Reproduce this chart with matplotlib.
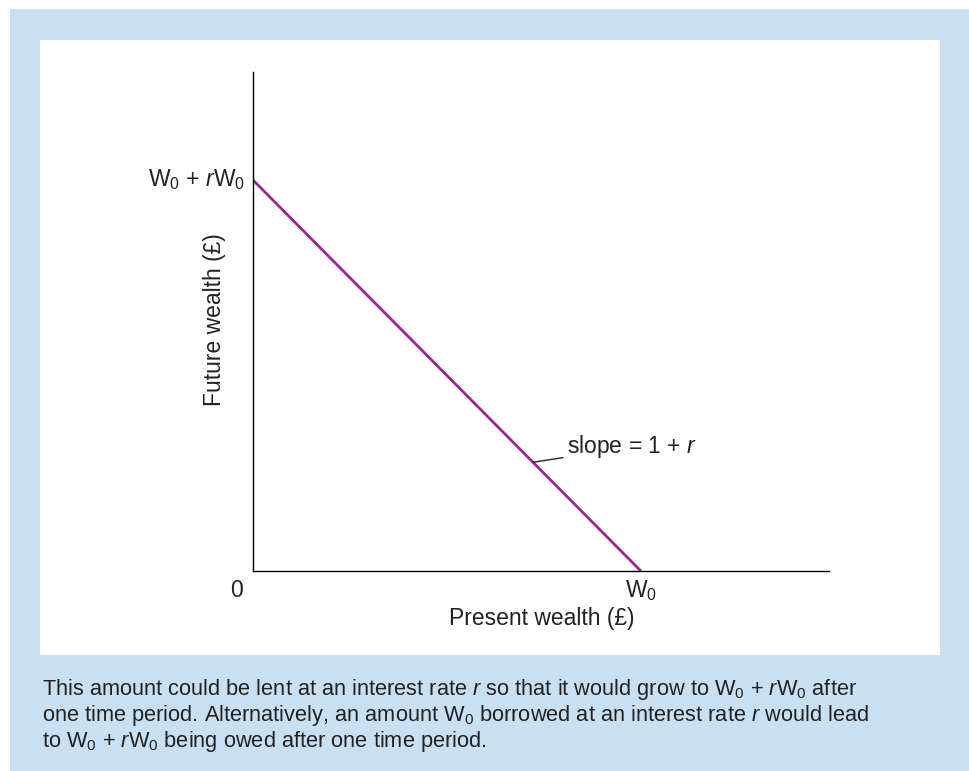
import matplotlib.pyplot as plt
from matplotlib.patches import Rectangle

plt.rcParams['font.family'] = ['Liberation Sans', 'DejaVu Sans']
plt.rcParams['mathtext.fontset'] = 'custom'
plt.rcParams['mathtext.rm'] = 'Liberation Sans'
plt.rcParams['mathtext.it'] = 'Liberation Sans:italic'

# budget line: present wealth W0 vs future wealth W0 + rW0
present_wealth = [0, 100]
future_wealth = [110, 0]
x_max = 148.5
y_max = 140.4

caption = ["This amount could be lent at an interest rate $r$ so that it would grow to W$_0$ + $r$W$_0$ after",
           "one time period. Alternatively, an amount W$_0$ borrowed at an interest rate $r$ would lead",
           "to W$_0$ + $r$W$_0$ being owed after one time period."]

W, H = 969, 771
fig = plt.figure(figsize=(W / 100, H / 100), dpi=100)

# background panels
bg = fig.add_axes([0, 0, 1, 1])
bg.set_xlim(0, W)
bg.set_ylim(H, 0)
bg.axis('off')
bg.add_patch(Rectangle((10, 9), W - 10, H - 9, color='#c9dff2', lw=0))
bg.add_patch(Rectangle((40, 40), 900, 615, color='white', lw=0))

ax = fig.add_axes([253 / W, 1 - 571 / H, (829 - 253) / W, (571 - 72) / H])
ax.patch.set_alpha(0)
ax.plot(present_wealth, future_wealth, color='#a0248f', lw=2.0, solid_capstyle='butt')
ax.set_xlim(0, x_max)
ax.set_ylim(0, y_max)
ax.spines['top'].set_visible(False)
ax.spines['right'].set_visible(False)
ax.spines['left'].set_linewidth(1.0)
ax.spines['bottom'].set_linewidth(1.0)
ax.set_xticks([])
ax.set_yticks([])

fs = 16.5
tc = '#222222'
ax.text(-2, future_wealth[0], r'W$_0$ + $r$W$_0$', ha='right', va='center', fontsize=fs, color=tc)
ax.text(-2.7, -7.3, '0', ha='right', va='baseline', fontsize=fs, color=tc)
ax.text(present_wealth[1], -7.3, r'W$_0$', ha='center', va='baseline', fontsize=fs, color=tc)
ax.set_xlabel('Present wealth (£)', fontsize=fs, color=tc, va='center')
ax.set_ylabel('Future wealth (£)', fontsize=fs, color=tc, va='center')
ax.xaxis.set_label_coords((542 - 253) / (829 - 253), -(618 - 571) / (571 - 72))
ax.yaxis.set_label_coords(-(253 - 215) / (829 - 253), (571 - 320) / (571 - 72))

ax.annotate('slope = 1 + $r$', xy=(72.2, 30.6), xytext=(81, 34.9),
            fontsize=fs, color=tc, va='center', ha='left',
            arrowprops=dict(arrowstyle='-', color=tc, lw=1.0, shrinkA=1, shrinkB=0))

for i, line in enumerate(caption):
    bg.text(42, 689 + i * 26.5, line, fontsize=15.7, color=tc, va='center', ha='left')

fig.savefig('out.png', dpi=100)
